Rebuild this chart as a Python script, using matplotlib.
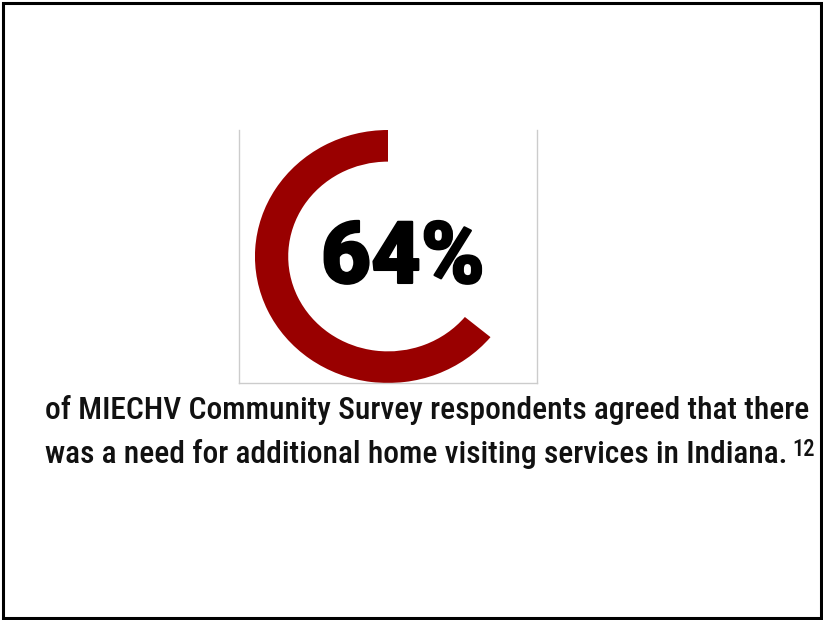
import matplotlib.pyplot as plt
import matplotlib.patheffects as pe
from matplotlib.patches import Rectangle

# share of respondents who agreed
pct_agree = 64
pct_rest = 100 - pct_agree

big_label = f'{pct_agree}%'
caption_lines = [
    'of MIECHV Community Survey respondents agreed that there',
    'was a need for additional home visiting services in Indiana.',
]
footnote = '12'

W, H = 823, 620
fig = plt.figure(figsize=(W / 100, H / 100), dpi=100)


def px(x, y):
    # pixel position (from top-left) -> figure fraction
    return x / W, 1 - y / H


# outer frame
fig.patches.append(Rectangle((2.5 / W, 2.5 / H), (W - 5) / W, (H - 5.5) / H,
                             transform=fig.transFigure, fill=False,
                             edgecolor='black', linewidth=2.2))

# donut box
left, top, right, bottom = 239, 130, 537, 383
ax = fig.add_axes([left / W, 1 - bottom / H, (right - left) / W, (bottom - top) / H])
ax.pie([pct_agree, pct_rest], colors=['#990000', 'none'], startangle=90,
       counterclock=True, radius=1.0, frame=True,
       wedgeprops=dict(width=0.25, edgecolor='none'))
ax.set_aspect('auto')
ax.set_xlim(-1.12, 1.12)
ax.set_ylim(-1.0, 1.0)
ax.set_xticks([])
ax.set_yticks([])
for side in ['left', 'right', 'bottom']:
    ax.spines[side].set_color('#cccccc')
    ax.spines[side].set_linewidth(1)
ax.spines['top'].set_visible(False)

# heavy centre figure
fig.text(*px(403, 283), big_label, ha='center', va='baseline',
         fontsize=62, fontweight='black', family=['Roboto', 'DejaVu Sans'],
         color='black',
         path_effects=[pe.withStroke(linewidth=1.5, foreground='black')])

# caption in a narrow face, sized so the first line spans the frame
cap_font = ['Roboto Condensed', 'Liberation Sans Narrow', 'DejaVu Sans']
cap_kw = dict(ha='left', va='baseline', family=cap_font, fontstretch='condensed',
              fontweight='medium', color='#111111')
t1 = fig.text(*px(45, 419), caption_lines[0], fontsize=23.5, **cap_kw)
t2 = fig.text(*px(45, 463), caption_lines[1], fontsize=23.5, **cap_kw)

fig.canvas.draw()
w1 = t1.get_window_extent().width
size = 23.5 * 763 / w1
t1.set_fontsize(size)
t2.set_fontsize(size)

fig.canvas.draw()
bb = t2.get_window_extent()
fig.text((bb.x1 + 5) / W, 1 - 456 / H, footnote, fontsize=size * 0.72, **cap_kw)

fig.savefig('out.png', dpi=100)
